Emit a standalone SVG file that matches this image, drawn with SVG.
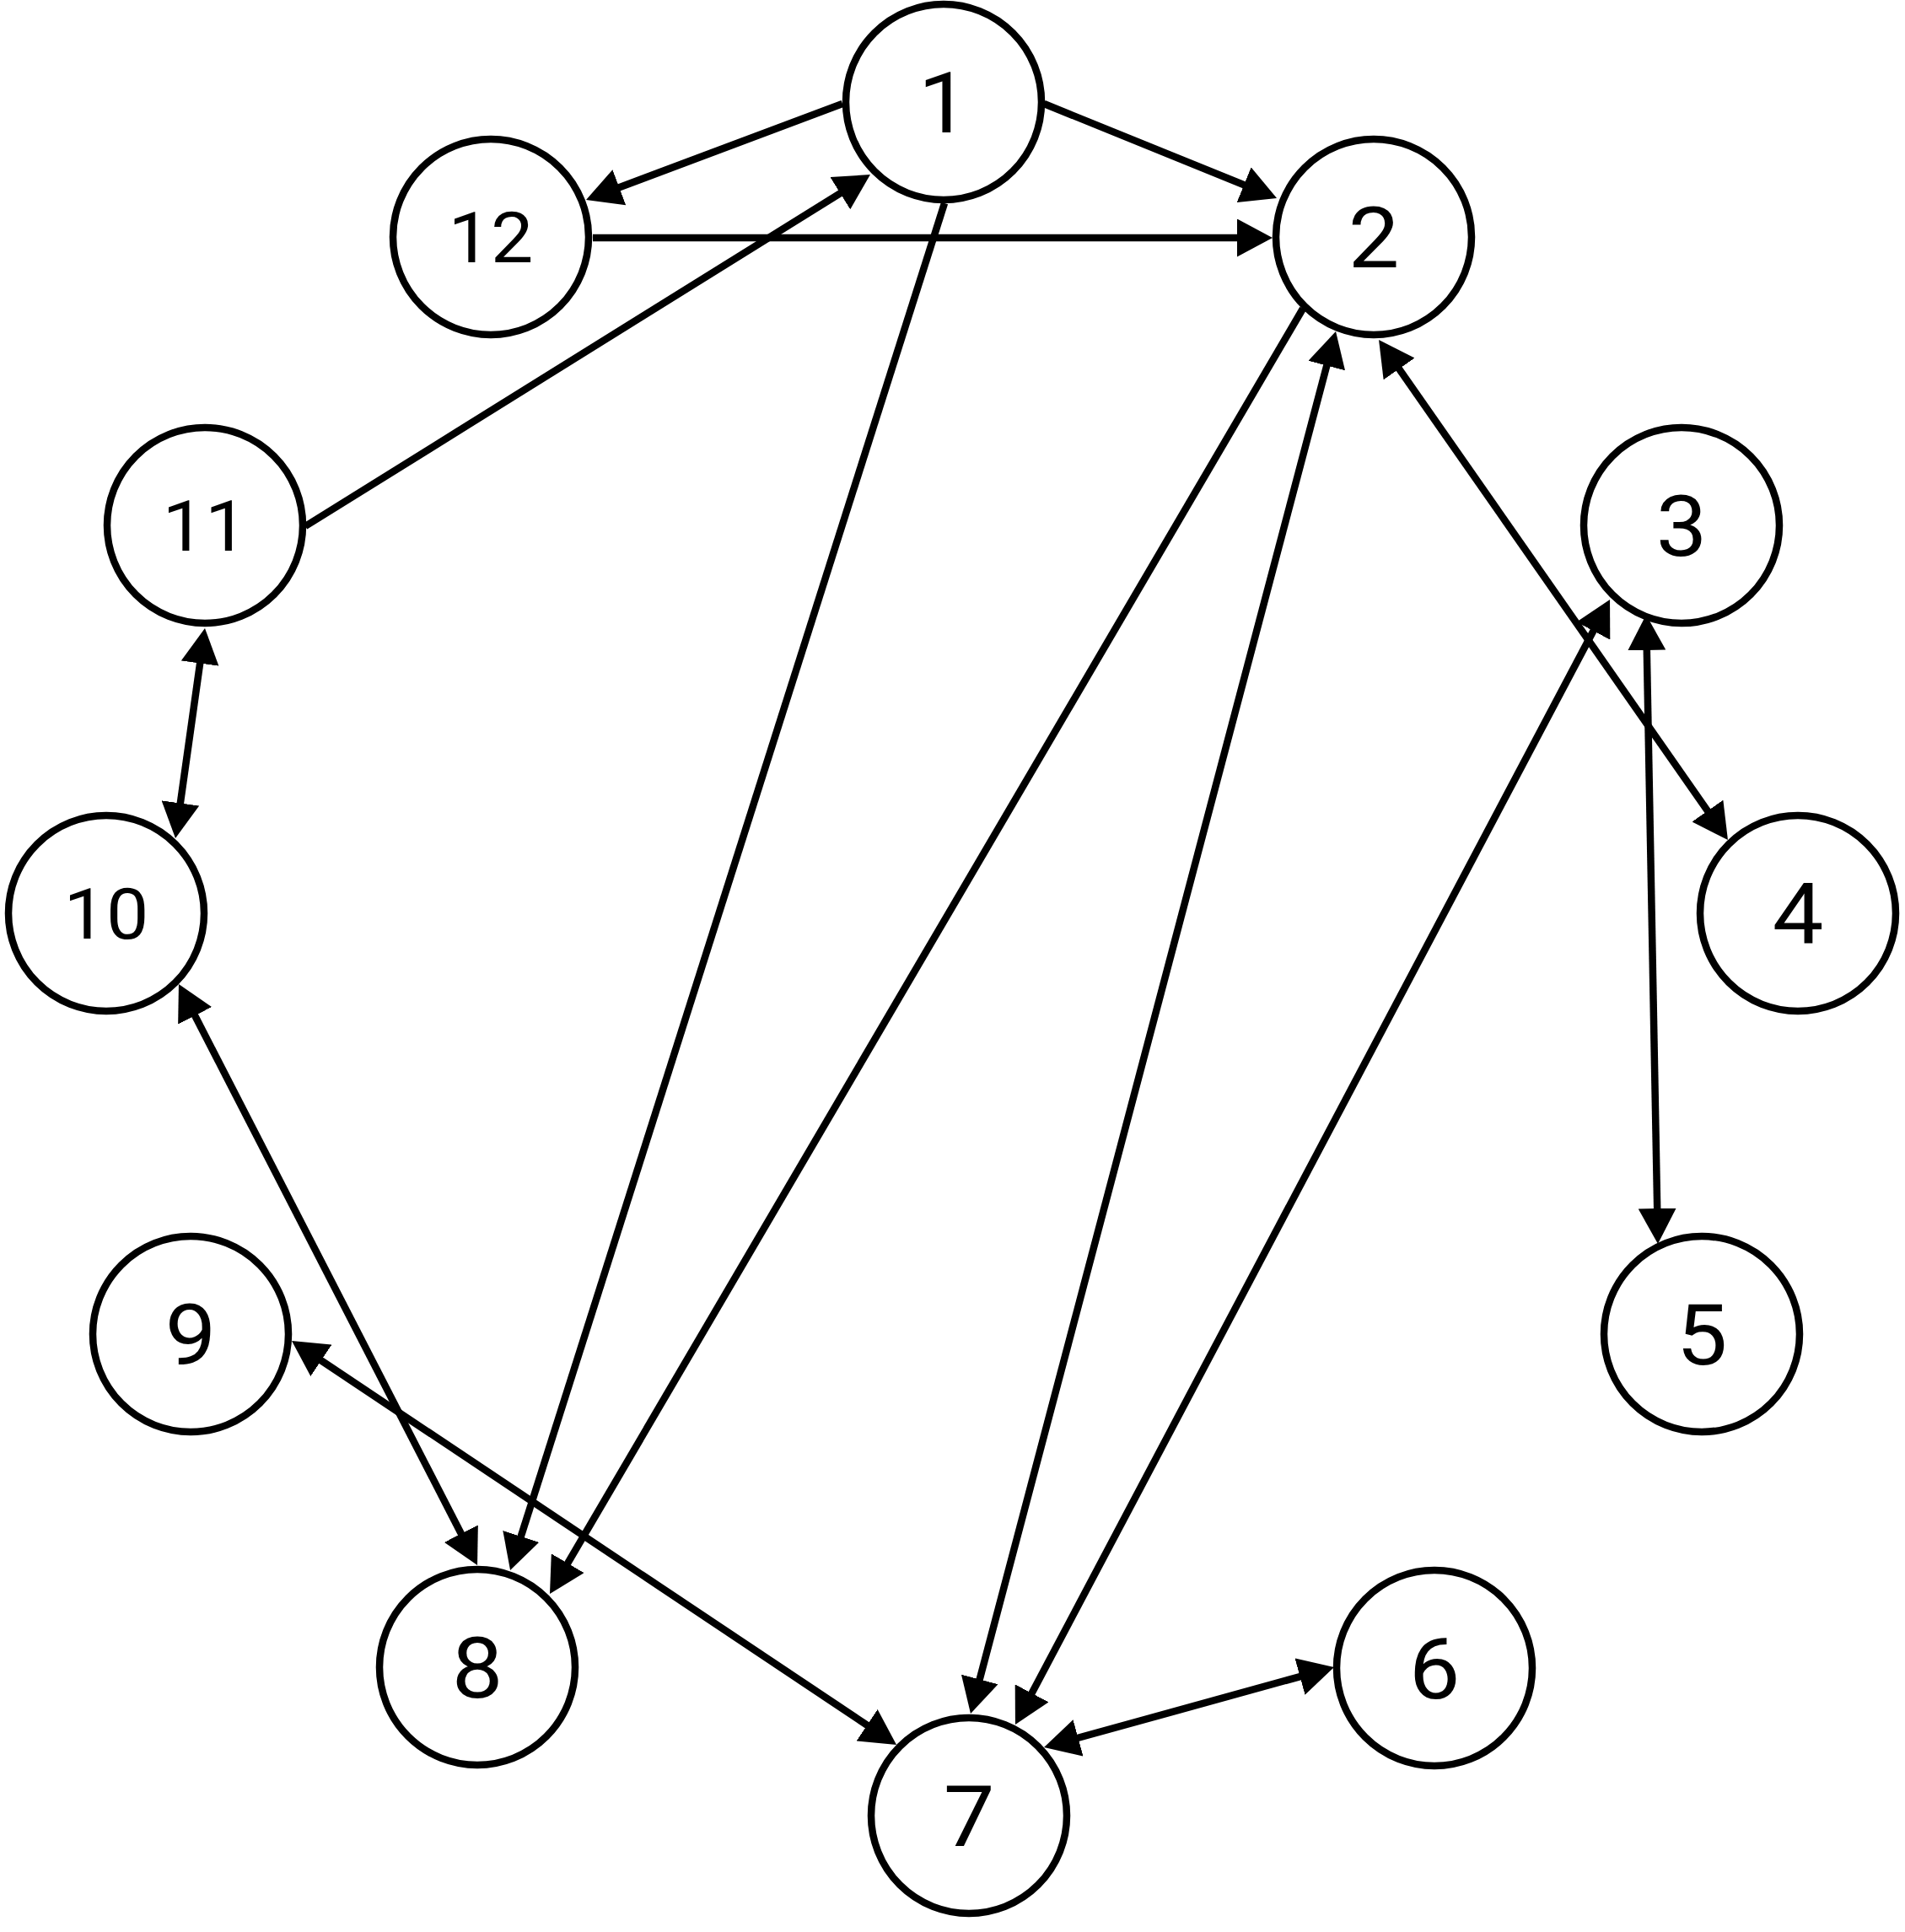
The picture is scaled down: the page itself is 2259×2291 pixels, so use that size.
<svg xmlns="http://www.w3.org/2000/svg" width="2259" height="2291" viewBox="0 0 2259 2291">
<style>
.n circle{fill:#fff;stroke:#000;stroke-width:8.5}
.e line{stroke:#000;stroke-width:8.5;fill:none}
</style>
<defs>
<marker id="arr" viewBox="0 0 42 45" refX="22" refY="22.5" markerWidth="42" markerHeight="45" markerUnits="userSpaceOnUse" orient="auto-start-reverse">
<path d="M0,0 L42,22.5 L0,45 Z" fill="#000"/>
</marker>
</defs>
<rect width="2259" height="2291" fill="#fff"/>
<g id="connectors" class="e">
<line x1="999" y1="123" x2="713.7" y2="230" marker-end="url(#arr)"/>
<line x1="1238" y1="123" x2="1495.5" y2="227.5" marker-end="url(#arr)"/>
<line x1="703" y1="282" x2="1489" y2="282" marker-end="url(#arr)"/>
<line x1="362" y1="624" x2="1015" y2="217.6" marker-end="url(#arr)"/>
<line x1="1120" y1="241" x2="611.1" y2="1842.9" marker-end="url(#arr)"/>
<line x1="1545" y1="366" x2="662.1" y2="1872.7" marker-end="url(#arr)"/>
<line x1="1578.9" y1="412.3" x2="1156.1" y2="2012.7" marker-start="url(#arr)" marker-end="url(#arr)"/>
<line x1="1646.5" y1="419.4" x2="2037.5" y2="979.6" marker-start="url(#arr)" marker-end="url(#arr)"/>
<line x1="1899.7" y1="728.7" x2="1213.3" y2="2027.3" marker-start="url(#arr)" marker-end="url(#arr)"/>
<line x1="1952.4" y1="749" x2="1965.6" y2="1455" marker-start="url(#arr)" marker-end="url(#arr)"/>
<line x1="1562.7" y1="1982.3" x2="1257.3" y2="2066.7" marker-start="url(#arr)" marker-end="url(#arr)"/>
<line x1="362.6" y1="1601.1" x2="1046.4" y2="2057.9" marker-start="url(#arr)" marker-end="url(#arr)"/>
<line x1="221.1" y1="1184.8" x2="556.9" y2="1838.2" marker-start="url(#arr)" marker-end="url(#arr)"/>
<line x1="240.2" y1="764.8" x2="210.8" y2="974.2" marker-start="url(#arr)" marker-end="url(#arr)"/>
</g>
<g font-family="Roboto, 'Liberation Sans', sans-serif" fill="#000" text-anchor="middle">
<g id="node1" class="n"><circle cx="1119" cy="121" r="116"/><text font-size="100" transform="translate(1119,157) scale(1.08,1)">1</text></g>
<g id="node2" class="n"><circle cx="1629" cy="281" r="116"/><text font-size="100" transform="translate(1629,317) scale(1.08,1)">2</text></g>
<g id="node3" class="n"><circle cx="1994" cy="623" r="116"/><text font-size="100" transform="translate(1994,659) scale(1.08,1)">3</text></g>
<g id="node4" class="n"><circle cx="2132" cy="1083" r="116"/><text font-size="100" transform="translate(2132,1119) scale(1.08,1)">4</text></g>
<g id="node5" class="n"><circle cx="2018" cy="1582" r="116"/><text font-size="100" transform="translate(2018,1618) scale(1.08,1)">5</text></g>
<g id="node6" class="n"><circle cx="1701" cy="1978" r="116"/><text font-size="100" transform="translate(1701,2014) scale(1.08,1)">6</text></g>
<g id="node7" class="n"><circle cx="1149" cy="2153" r="116"/><text font-size="100" transform="translate(1149,2189) scale(1.08,1)">7</text></g>
<g id="node8" class="n"><circle cx="566" cy="1977" r="116"/><text font-size="100" transform="translate(566,2013) scale(1.08,1)">8</text></g>
<g id="node9" class="n"><circle cx="226" cy="1582" r="116"/><text font-size="100" transform="translate(226,1618) scale(1.08,1)">9</text></g>
<g id="node10" class="n"><circle cx="126" cy="1083" r="116"/><text font-size="83" transform="translate(126,1113) scale(1.08,1)">10</text></g>
<g id="node11" class="n"><circle cx="243" cy="623" r="116"/><text font-size="83" transform="translate(243,653) scale(1.08,1)">11</text></g>
<g id="node12" class="n"><circle cx="582" cy="281" r="116"/><text font-size="83" transform="translate(582,311) scale(1.08,1)">12</text></g>
</g>
</svg>
